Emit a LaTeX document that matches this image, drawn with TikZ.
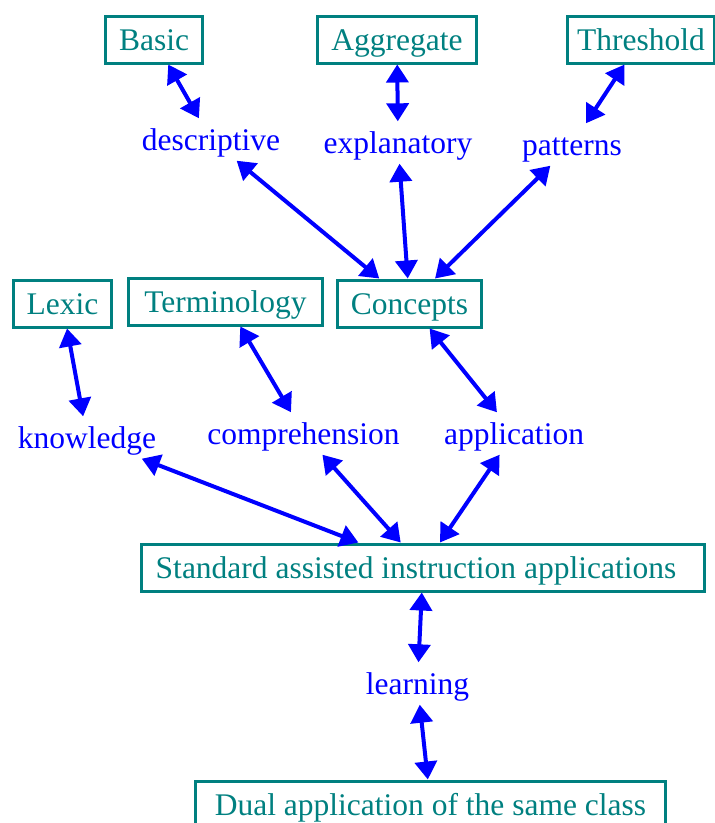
\documentclass[tikz,border=0pt]{standalone}
\usepackage{fontspec}
\setmainfont{Liberation Serif}
\usetikzlibrary{arrows.meta}
\definecolor{boxteal}{RGB}{0,128,128}
\definecolor{lblue}{RGB}{0,0,255}
\begin{document}
\begin{tikzpicture}[x=1pt,y=-1pt,
  txt/.style={font=\fontsize{31.5}{36}\selectfont, text height=21pt, text depth=0pt},
  box/.style={txt, draw=boxteal, line width=3pt, text=boxteal, minimum height=47pt, inner sep=0pt},
  lbl/.style={txt, text=lblue, minimum height=42pt, inner sep=2pt},
  link/.style={draw=lblue, line width=4pt, {Triangle[length=18pt,width=22pt]}-{Triangle[length=18pt,width=22pt]}}]
\useasboundingbox (0,0) rectangle (715,823);
% boxes
\node[box, minimum width=97pt]  (basic) at (154,39.5) {Basic};
\node[box, minimum width=159pt] (aggr)  at (397,39.5) {Aggregate};
\node[box, minimum width=147pt] (thr)   at (641,39.5) {Threshold};
\node[box, minimum width=98pt]  (lexic) at (62.5,303.5) {Lexic};
\node[box, minimum width=194pt] (term)  at (225.5,301.5) {Terminology};
\node[box, minimum width=144pt] (conc)  at (409.5,303.5) {Concepts};
\node[box, minimum width=563pt, align=left] (std) at (423,567.5) {Standard assisted instruction applications\hspace{14pt}};
\node[box, minimum width=470pt] (dual)  at (430.5,804.5) {Dual application of the same class\hspace{14pt}};
% labels
\node[lbl] (desc)  at (211,139.5) {descriptive};
\node[lbl] (expl)  at (398,142.5) {explanatory};
\node[lbl] (patt)  at (572,144.5) {patterns};
\node[lbl] (know)  at (87,437.5) {knowledge};
\node[lbl] (comp)  at (303.5,433.5) {comprehension};
\node[lbl] (appl)  at (514,433.5) {application};
\node[lbl] (learn) at (417.5,683.5) {learning};
% connectors
\draw[link] (basic) -- (desc);
\draw[link] (aggr) -- (expl);
\draw[link] (thr) -- (patt);
\draw[link] (desc) -- (conc);
\draw[link] (expl) -- (conc);
\draw[link] (patt) -- (conc);
\draw[link] (lexic) -- (know);
\draw[link] (term) -- (comp);
\draw[link] (conc) -- (appl);
\draw[link] (know) -- (std);
\draw[link] (comp) -- (std);
\draw[link] (appl) -- (std);
\draw[link] (std) -- (learn);
\draw[link] (learn) -- (dual);
\end{tikzpicture}
\end{document}
